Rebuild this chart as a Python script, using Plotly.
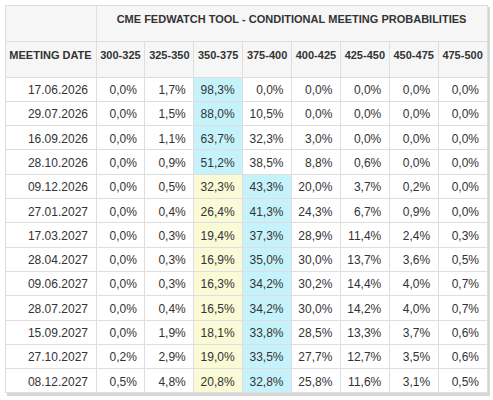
import plotly.graph_objects as go

title = "CME FEDWATCH TOOL - CONDITIONAL MEETING PROBABILITIES"
first_header = "MEETING DATE"
ranges = ["300-325", "325-350", "350-375", "375-400", "400-425", "425-450", "450-475", "475-500"]
current_range = "350-375"
dates = ["17.06.2026", "29.07.2026", "16.09.2026", "28.10.2026", "09.12.2026", "27.01.2027",
         "17.03.2027", "28.04.2027", "09.06.2027", "28.07.2027", "15.09.2027", "27.10.2027", "08.12.2027"]

p300_325 = [0.0, 0.0, 0.0, 0.0, 0.0, 0.0, 0.0, 0.0, 0.0, 0.0, 0.0, 0.2, 0.5]
p325_350 = [1.7, 1.5, 1.1, 0.9, 0.5, 0.4, 0.3, 0.3, 0.3, 0.4, 1.9, 2.9, 4.8]
p350_375 = [98.3, 88.0, 63.7, 51.2, 32.3, 26.4, 19.4, 16.9, 16.3, 16.5, 18.1, 19.0, 20.8]
p375_400 = [0.0, 10.5, 32.3, 38.5, 43.3, 41.3, 37.3, 35.0, 34.2, 34.2, 33.8, 33.5, 32.8]
p400_425 = [0.0, 0.0, 3.0, 8.8, 20.0, 24.3, 28.9, 30.0, 30.2, 30.0, 28.5, 27.7, 25.8]
p425_450 = [0.0, 0.0, 0.0, 0.6, 3.7, 6.7, 11.4, 13.7, 14.4, 14.2, 13.3, 12.7, 11.6]
p450_475 = [0.0, 0.0, 0.0, 0.0, 0.2, 0.9, 2.4, 3.6, 4.0, 4.0, 3.7, 3.5, 3.1]
p475_500 = [0.0, 0.0, 0.0, 0.0, 0.0, 0.0, 0.3, 0.5, 0.7, 0.7, 0.6, 0.6, 0.5]

series = [p300_325, p325_350, p350_375, p375_400, p400_425, p425_450, p450_475, p475_500]

W, H = 493, 400
L, R, T, B = 5, 487, 5, 393
row1_h = 36
row2_h = 36
n_rows = len(dates)
row_h = 24.3

FONT = "Arial, Liberation Sans, sans-serif"
TXT = "#333333"
LINE = "#dedede"
HEAD_BG = "#f6f6f6"
WHITE = "#ffffff"
CYAN = "#c6f3fb"
YELLOW = "#fafad6"
NB = "\u00a0"


def fmt(v):
    return f"{v:.1f}".replace(".", ",") + "%"


# fill colours: cyan = highest probability per row, yellow = current target range
fills = [[WHITE] * n_rows]
for ci, col in enumerate(series):
    colfill = []
    for ri in range(n_rows):
        row_vals = [s[ri] for s in series]
        if col[ri] == max(row_vals):
            colfill.append(CYAN)
        elif ranges[ci] == current_range:
            colfill.append(YELLOW)
        else:
            colfill.append(WHITE)
    fills.append(colfill)

first_w = 91
other_w = (R - L - first_w) / len(ranges)
table_bottom = T + row1_h + row2_h + n_rows * row_h

fig = go.Figure()

# top header row (merged title)
fig.add_trace(go.Table(
    domain=dict(x=[L / W, R / W], y=[1 - (T + row1_h) / H, 1 - T / H]),
    columnwidth=[first_w, R - L - first_w],
    header=dict(
        values=["", "<b>" + title.replace(" ", NB) + "</b>"],
        height=row1_h,
        fill_color=HEAD_BG,
        line_color=LINE,
        align="center",
        font=dict(family=FONT, size=11, color=TXT),
    ),
    cells=dict(values=[[""], [""]], height=1, line_color=HEAD_BG, fill_color=HEAD_BG),
))

# main table
fig.add_trace(go.Table(
    domain=dict(x=[L / W, R / W], y=[0, 1 - (T + row1_h) / H]),
    columnwidth=[first_w] + [other_w] * len(ranges),
    header=dict(
        values=["<b>" + first_header.replace(" ", NB) + "</b>"] + [f"<b>{r}</b>" for r in ranges],
        height=row2_h,
        fill_color=HEAD_BG,
        line_color=LINE,
        align="center",
        font=dict(family=FONT, size=11, color=TXT),
    ),
    cells=dict(
        values=[dates] + [[fmt(v) for v in s] for s in series],
        height=row_h,
        fill_color=fills,
        line_color=LINE,
        align="right",
        font=dict(family=FONT, size=12, color=TXT),
    ),
))

# subtle drop shadow behind the table
fig.add_shape(type="rect", xref="paper", yref="paper",
              x0=(L + 2) / W, x1=(R + 3) / W,
              y0=1 - (table_bottom + 3) / H, y1=1 - (T + 2) / H,
              line=dict(width=0), fillcolor="#d6d6d6", layer="below")

fig.update_layout(
    width=W, height=H,
    margin=dict(l=0, r=0, t=0, b=0),
    paper_bgcolor="white",
    plot_bgcolor="white",
)

fig.write_html("out.html", config={"displayModeBar": False},
               post_script="document.body.style.margin='0px';")
